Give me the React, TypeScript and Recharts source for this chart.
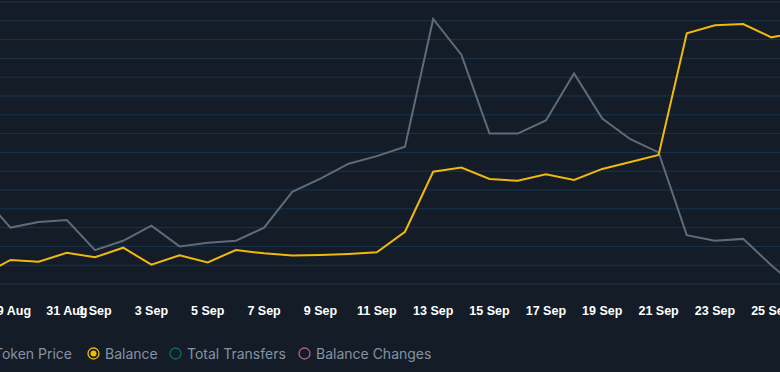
import { CartesianGrid, Line, LineChart, XAxis, YAxis } from "recharts";

const dates = [
  "28 Aug", "29 Aug", "30 Aug", "31 Aug", "1 Sep", "2 Sep", "3 Sep", "4 Sep",
  "5 Sep", "6 Sep", "7 Sep", "8 Sep", "9 Sep", "10 Sep", "11 Sep", "12 Sep",
  "13 Sep", "14 Sep", "15 Sep", "16 Sep", "17 Sep", "18 Sep", "19 Sep", "20 Sep",
  "21 Sep", "22 Sep", "23 Sep", "24 Sep", "25 Sep", "26 Sep",
];

const tokenPrice = [
  0.97, 0.8, 0.83, 0.84, 0.68, 0.73, 0.81, 0.7, 0.72, 0.73, 0.8, 0.99, 1.06, 1.14,
  1.18, 1.23, 1.91, 1.72, 1.3, 1.3, 1.37, 1.62, 1.38, 1.27, 1.2, 0.76, 0.73, 0.74,
  0.6, 0.47,
];

const balance = [
  480, 1280, 1190, 1660, 1420, 1930, 1030, 1530, 1150, 1810, 1630, 1510, 1540,
  1600, 1690, 2780, 5970, 6190, 5590, 5490, 5840, 5530, 6120, 6490, 6860, 13340,
  13760, 13830, 13120, 13390,
];

const tickLabels = [
  "29 Aug", "31 Aug", "1 Sep", "3 Sep", "5 Sep", "7 Sep", "9 Sep", "11 Sep",
  "13 Sep", "15 Sep", "17 Sep", "19 Sep", "21 Sep", "23 Sep", "25 Sep",
];

const priceTicks = [
  0.5, 0.6, 0.7, 0.8, 0.9, 1.0, 1.1, 1.2, 1.3, 1.4, 1.5, 1.6, 1.7, 1.8, 1.9,
];

const legendItems = [
  { name: "Token Price", color: "#5f6b78", active: true },
  { name: "Balance", color: "#f0b90b", active: true },
  { name: "Total Transfers", color: "#0f6b63", active: false },
  { name: "Balance Changes", color: "#b0618a", active: false },
];

const rows = dates.map((date, i) => ({
  date,
  price: tokenPrice[i],
  balance: balance[i],
}));

const BG = "#131c27";

function LegendDot({ color, active }: { color: string; active: boolean }) {
  return (
    <svg width={13} height={13} style={{ display: "block" }}>
      <circle cx={6.5} cy={6.5} r={5.5} fill="none" stroke={color} strokeWidth={1.3} />
      {active && <circle cx={6.5} cy={6.5} r={3} fill={color} />}
    </svg>
  );
}

function LegendItem({ name, color, active }: { name: string; color: string; active: boolean }) {
  return (
    <div style={{ display: "flex", alignItems: "center", gap: 5, whiteSpace: "nowrap" }}>
      <LegendDot color={color} active={active} />
      <span>{name}</span>
    </div>
  );
}

export default function App() {
  const lefts = [null, 87, 169, 298];
  return (
    <div
      style={{
        position: "fixed",
        left: 0,
        top: 0,
        width: 780,
        height: 372,
        overflow: "hidden",
        background: BG,
      }}
    >
      <div style={{ position: "absolute", left: -40, top: 0 }}>
        <LineChart
          width={880}
          height={330}
          data={rows}
          margin={{ top: 2, right: 40.5, bottom: 0, left: 22.3 }}
        >
          <CartesianGrid
            yAxisId="price"
            vertical={false}
            stroke="#1b344d"
            strokeWidth={1}
          />
          <XAxis
            dataKey="date"
            ticks={tickLabels}
            interval={0}
            axisLine={false}
            tickLine={false}
            tickSize={0}
            tickMargin={22}
            height={46}
            tick={{
              fontSize: 12.5,
              fontWeight: 700,
              fontFamily: "'Liberation Sans', Arial, sans-serif",
              fill: "#ffffff",
            }}
          />
          <YAxis
            yAxisId="price"
            hide
            domain={[0.5, 2.0]}
            ticks={priceTicks}
            interval={0}
            allowDataOverflow
          />
          <YAxis
            yAxisId="balance"
            hide
            domain={[0, 15000]}
            allowDataOverflow
          />
          <Line
            yAxisId="price"
            type="linear"
            dataKey="price"
            stroke="#5f6b78"
            strokeWidth={2}
            dot={false}
            isAnimationActive={false}
          />
          <Line
            yAxisId="balance"
            type="linear"
            dataKey="balance"
            stroke="#f0b90b"
            strokeWidth={2}
            dot={false}
            isAnimationActive={false}
          />
        </LineChart>
      </div>
      <div
        style={{
          position: "absolute",
          top: 345,
          left: 0,
          width: 780,
          height: 20,
          fontFamily: "Inter, 'Noto Sans', sans-serif",
          fontSize: 14,
          color: "#8792a2",
        }}
      >
        {legendItems.map((item, i) =>
          i === 0 ? (
            <div key={item.name} style={{ position: "absolute", right: 780 - 72, top: 0 }}>
              <LegendItem {...item} />
            </div>
          ) : (
            <div key={item.name} style={{ position: "absolute", left: lefts[i] as number, top: 0 }}>
              <LegendItem {...item} />
            </div>
          )
        )}
      </div>
    </div>
  );
}
